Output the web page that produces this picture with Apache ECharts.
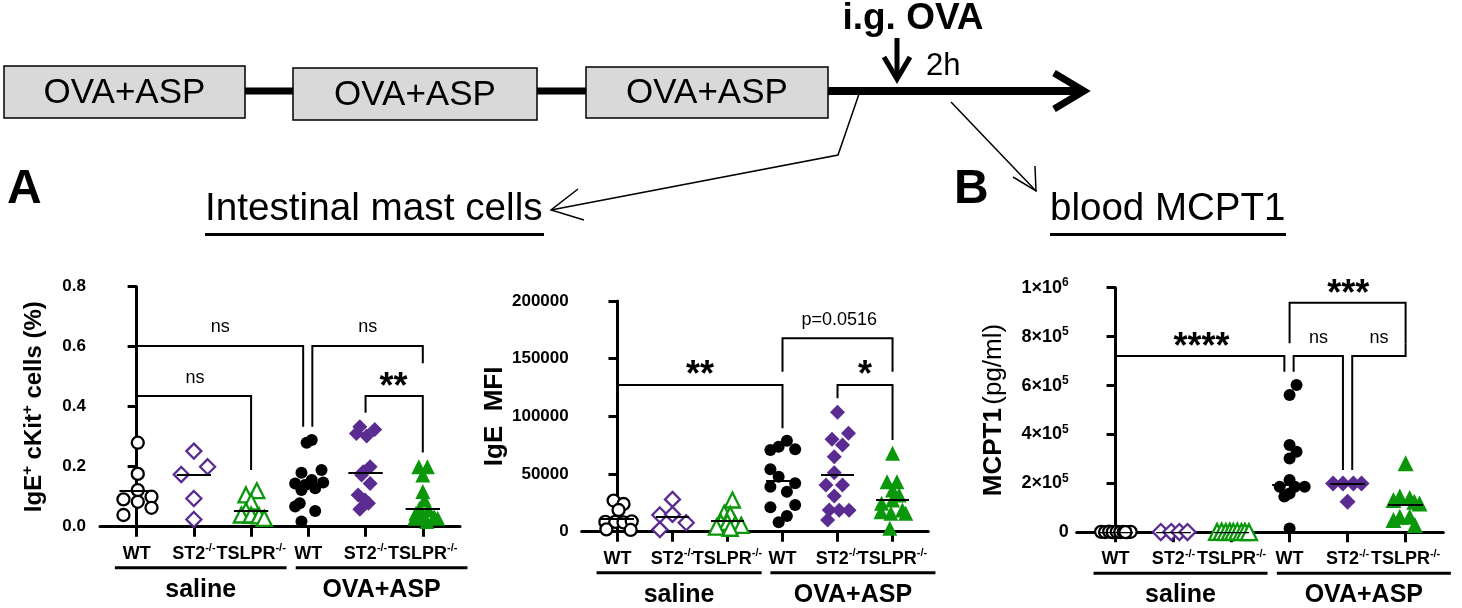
<!DOCTYPE html>
<html>
<head>
<meta charset="utf-8">
<script src="https://cdn.jsdelivr.net/npm/echarts@6/dist/echarts.min.js"></script>
<style>html,body{margin:0;padding:0;background:#fff}#c{width:1462px;height:608px}</style>
</head>
<body>
<div id="c"></div>
<script>
// ---------- DATA ----------
const categories = ['WT', 'ST2-/-', 'TSLPR-/-', 'WT', 'ST2-/-', 'TSLPR-/-'];
const groupLabels = ['saline', 'OVA+ASP'];
const timelineBoxes = ['OVA+ASP', 'OVA+ASP', 'OVA+ASP'];

// Panel A left: IgE+ cKit+ cells (%)  — each point: [jitter in category units, value]
const a1Points = [
  [[0.02,0.28],[0.02,0.176],[0.02,0.122],[-0.23,0.091],[0.02,0.083],[0.26,0.1],[-0.23,0.039],[0.26,0.063]],
  [[0,0.252],[-0.22,0.174],[0.24,0.2],[0,0.094],[0,0.024]],
  [[0.1,0.12],[-0.09,0.106],[0,0.083],[-0.09,0.053],[-0.17,0.039],[0,0.039],[0.14,0.036],[0.23,0.028]],
  [[-0.03,0.28],[0.06,0.289],[-0.12,0.18],[0.23,0.189],[-0.23,0.144],[0.06,0.156],[0.26,0.147],[-0.06,0.139],[-0.12,0.122],[0.12,0.128],[-0.15,0.078],[-0.23,0.067],[0.12,0.052],[-0.12,0.017]],
  [[-0.16,0.311],[0.02,0.302],[0.16,0.324],[-0.1,0.333],[0.08,0.2],[-0.04,0.183],[-0.07,0.172],[0.08,0.144],[-0.13,0.106],[-0.01,0.089],[0.05,0.078],[-0.1,0.058]],
  [[-0.07,0.2],[0.08,0.2],[0,0.172],[0,0.117],[0.03,0.089],[-0.06,0.061],[-0.12,0.045],[0.1,0.056],[0.2,0.033],[-0.02,0.033],[0.07,0.017],[-0.14,0.028],[0.26,0.028]]
];
const a1Centre = [0.119, 0.174, 0.053, 0.144, 0.18, 0.059];
const a1Brackets = [
  {from:0, to:2.91, top:0.602, legFrom:0.478, legTo:0.333, label:'ns', lx:1.46, ly:0.667},
  {from:3.07, to:5, top:0.602, legFrom:0.333, legTo:0.545, label:'ns', lx:4.04, ly:0.667},
  {from:0, to:2, top:0.436, legFrom:0.315, legTo:0.189, label:'ns', lx:1.02, ly:0.495},
  {from:4, to:5, top:0.436, legFrom:0.38, legTo:0.247, label:'**', lx:4.49, ly:0.489}
];
const a1Ticks = [0, 0.2, 0.4, 0.6, 0.8];

// Panel A right: IgE MFI
const a2Points = [
  [[-0.07,27000],[0.11,24000],[0.02,18800],[-0.22,8500],[-0.04,8500],[0.11,8000],[0.26,9000],[-0.2,2000],[0.24,1500]],
  [[0,28000],[-0.23,14500],[0,15000],[0.25,7800],[-0.23,1800]],
  [[0.09,27500],[-0.06,16000],[0.05,15000],[-0.12,8000],[0,8000],[0.14,6500],[0.25,5500],[-0.2,4000],[0.05,3000]],
  [[-0.22,70800],[-0.07,73700],[0.08,78900],[0.23,71500],[-0.22,54100],[-0.07,47700],[0.23,42000],[-0.22,39000],[0.08,34700],[-0.22,21100],[0.23,23100],[0.08,13600],[-0.07,8100]],
  [[0,103500],[0.2,85300],[-0.1,80100],[0.09,75200],[-0.06,65000],[-0.06,51200],[-0.21,40500],[0.09,40500],[-0.06,31000],[-0.15,18800],[0.03,18700],[0.21,18700],[-0.18,10100]],
  [[0,68000],[-0.1,43300],[0.08,43300],[0,36100],[0.12,31800],[-0.2,24600],[0,27500],[0.18,18800],[-0.21,17300],[-0.03,16000],[0.24,16000],[-0.05,2900]]
];
const a2Centre = [11600, 13000, 9300, 44200, 49200, 28000];
const a2Brackets = [
  {from:0, to:3, top:127200, legFrom:39000, legTo:89600, label:'**', lx:1.5, ly:141600},
  {from:3, to:5, top:167600, legFrom:138700, legTo:138700, label:'p=0.0516', lx:4.03, ly:183500},
  {from:4, to:5, top:127200, legFrom:115600, legTo:79500, label:'*', lx:4.5, ly:141600}
];
const a2Ticks = [0, 50000, 100000, 150000, 200000];

// Panel B: blood MCPT1 (pg/ml)
const bPoints = [
  [[-0.25,2000],[-0.18,1000],[-0.11,3000],[-0.05,500],[0.02,2000],[0.08,1000],[0.14,1500],[0.2,800],[0.26,2000],[0.17,500]],
  [[-0.22,1000],[-0.04,1000],[0.1,1000],[0.24,1000]],
  [[-0.25,1500],[-0.17,2500],[-0.1,1000],[-0.03,2500],[0.03,1500],[0.1,2500],[0.17,1000],[0.23,2000],[0.3,500]],
  [[0.12,602000],[0,561000],[0,357000],[0.12,329000],[0,302000],[0,214000],[-0.17,186000],[0.26,186000],[0.09,186000],[0,159000],[-0.09,146000],[0,16000]],
  [[-0.25,200000],[-0.08,200000],[0.1,200000],[0.24,200000],[0,125000]],
  [[0,282000],[-0.21,132000],[-0.1,146000],[0.07,140000],[0.24,118000],[0.15,125000],[-0.21,50000],[-0.1,64000],[0.07,64000],[0.16,30000]]
];
const bCentre = [0, 0, 0, 193000, 198000, 112000];
const bBrackets = [
  {from:0, to:2.91, top:720700, legFrom:63800, legTo:656500, label:'****', lx:1.48, ly:786000},
  {from:3.07, to:3.92, top:720700, legFrom:656500, legTo:254700, label:'ns', lx:3.5, ly:793000},
  {from:4.08, to:5, top:720700, legFrom:254700, legTo:772600, label:'ns', lx:4.54, ly:793000},
  {from:3, to:5, top:938600, legFrom:772600, legTo:772600, label:'***', lx:4.01, ly:1004000}
];
const bTicks = [0, 200000, 400000, 600000, 800000, 1000000];

// ---------- STYLE ----------
const FONT = 'Liberation Sans, Arial, Helvetica, sans-serif';
const colors = ['#000000', '#5a2b91', '#0b970b'];
const shapes = ['circle', 'diamond', 'triangle'];
const catIdx = [0, 1, 2, 3, 4, 5];

const chart = echarts.init(document.getElementById('c'), null, {renderer: 'canvas'});

function xLabelFmt(v) {
  const l = categories[Math.round(v)];
  const k = l.indexOf('-');
  return k > 0 ? '{b|' + l.slice(0, k) + '}{s|' + l.slice(k) + '}' : '{b|' + l + '}';
}
const xRich = {
  b: {fontSize: 18, fontWeight: 'bold', fontFamily: FONT, fill: '#000', color: '#000', lineHeight: 22},
  s: {fontSize: 11, fontWeight: 'bold', fontFamily: FONT, fill: '#000', color: '#000', verticalAlign: 'top', lineHeight: 22, padding: [0, 0, 7, 0]}
};

function makeX(gi, min, max) {
  return {
    type: 'value', gridIndex: gi, min: min, max: max, position: 'bottom',
    axisLine: {show: true, onZero: false, lineStyle: {color: '#000', width: 3}},
    axisTick: {show: true, customValues: catIdx, length: 10, lineStyle: {color: '#000', width: 3}},
    axisLabel: {show: false},
    splitLine: {show: false}
  };
}
function makeY(gi, max, interval, fmt, margin, fs, name, nameGap, nameRich) {
  return {
    type: 'value', gridIndex: gi, min: 0, max: max, interval: interval,
    axisLine: {show: true, lineStyle: {color: '#000', width: 3}},
    axisTick: {show: true, length: 9, lineStyle: {color: '#000', width: 3}},
    axisLabel: {formatter: fmt, margin: margin, color: '#000', showMinLabel: true, showMaxLabel: true,
      rich: {n: {fontSize: fs, fontWeight: 'bold', fontFamily: FONT, color: '#000', lineHeight: fs + 4},
             s: {fontSize: Math.round(fs * 0.65), fontWeight: 'bold', fontFamily: FONT, color: '#000', verticalAlign: 'top', lineHeight: fs + 4}}},
    splitLine: {show: false},
    name: name, nameLocation: 'middle', nameGap: nameGap, nameRotate: 90,
    nameTextStyle: {rich: nameRich}
  };
}

function panelSeries(gi, points, centres, brackets, sizes) {
  const s = [];
  points.forEach((pts, i) => {
    const hollow = i < 3;
    s.push({
      type: 'scatter', xAxisIndex: gi, yAxisIndex: gi, silent: true, z: 3,
      data: pts.map(p => [i + p[0], p[1]]),
      symbol: shapes[i % 3], symbolSize: sizes[i % 3],
      itemStyle: hollow ? {color: '#fff', borderColor: colors[i % 3], borderWidth: 2.3, opacity: 1}
                        : {color: colors[i % 3], borderWidth: 0, opacity: 1}
    });
  });
  s.push({
    type: 'lines', coordinateSystem: 'cartesian2d', xAxisIndex: gi, yAxisIndex: gi, silent: true, z: 4,
    data: centres.map((m, i) => ({coords: [[i - 0.3, m], [i + 0.3, m]]})),
    lineStyle: {color: '#000', width: 2, opacity: 1, curveness: 0}
  });
  s.push({
    type: 'lines', coordinateSystem: 'cartesian2d', polyline: true, xAxisIndex: gi, yAxisIndex: gi, silent: true, z: 4,
    data: brackets.map(b => ({coords: [[b.from, b.legFrom], [b.from, b.top], [b.to, b.top], [b.to, b.legTo]]})),
    lineStyle: {color: '#000', width: 2, opacity: 1}
  });
  s.push({
    type: 'scatter', xAxisIndex: gi, yAxisIndex: gi, silent: true, z: 5, clip: false, symbolSize: 0,
    itemStyle: {opacity: 1, color: '#000'},
    data: brackets.map(b => {
      const star = b.label.indexOf('*') >= 0;
      return {
        value: [b.lx, b.ly],
        label: {show: true, position: 'inside', formatter: b.label, color: '#000', opacity: 1, fontFamily: FONT,
          fontSize: star ? 36 : 18, fontWeight: star ? 'bold' : 'normal', offset: star ? [0, 8] : [0, 0]}
      };
    })
  });
  return s;
}

const option = {
  animation: false,
  backgroundColor: '#fff',
  grid: [
    {left: 100, top: 286.7, width: 360, height: 240, containLabel: false, outerBoundsMode: 'none'},
    {left: 581.7, top: 301, width: 346.6, height: 230.7, containLabel: false, outerBoundsMode: 'none'},
    {left: 1076.7, top: 287.7, width: 366.6, height: 244.6, containLabel: false, outerBoundsMode: 'none'}
  ],
  xAxis: [makeX(0, -0.64, 5.65), makeX(1, -0.65, 5.65), makeX(2, -0.67, 5.65)],
  yAxis: [
    makeY(0, a1Ticks[a1Ticks.length - 1], a1Ticks[1] - a1Ticks[0], v => '{n|' + v.toFixed(1) + '}', 14, 17,
      '{n|IgE}{s|+}{n| cKit}{s|+}{n| cells (%)}', 52,
      {n: {fontSize: 24, fontWeight: 'bold', fontFamily: FONT, color: '#000', lineHeight: 28},
       s: {fontSize: 15, fontWeight: 'bold', fontFamily: FONT, color: '#000', verticalAlign: 'top', lineHeight: 28}}),
    makeY(1, a2Ticks[a2Ticks.length - 1], a2Ticks[1] - a2Ticks[0], v => '{n|' + v + '}', 13, 17,
      '{n|IgE  MFI}', 74,
      {n: {fontSize: 26, fontWeight: 'bold', fontFamily: FONT, color: '#000'}}),
    makeY(2, bTicks[bTicks.length - 1], bTicks[1] - bTicks[0], v => {
        if (v === 0) return '{n|0}';
        const e = Math.floor(Math.log10(v) + 1e-9);
        const m = Math.round(v / Math.pow(10, e));
        return '{n|' + m + '×10}{s|' + e + '}';
      }, 8, 18,
      '{b|MCPT1} {r|(pg/ml)}', 70,
      {b: {fontSize: 26, fontWeight: 'bold', fontFamily: FONT, color: '#000'},
       r: {fontSize: 26, fontWeight: 'normal', fontFamily: FONT, color: '#000'}})
  ],
  series: [].concat(
    panelSeries(0, a1Points, a1Centre, a1Brackets, [12, 15, 15]),
    panelSeries(1, a2Points, a2Centre, a2Brackets, [12, 15, 15]),
    panelSeries(2, bPoints, bCentre, bBrackets, [12, 16, 16])
  )
};
chart.setOption(option);

// ---------- ANNOTATIONS (schematic + category labels + group bars) ----------
const g = [];
function txt(x, y, text, font, align) {
  g.push({type: 'text', x: x, y: y, z: 10, style: {text: text, font: font, fill: '#000', textAlign: align || 'center', textVerticalAlign: 'middle', verticalAlign: 'middle'}});
}
function ln(x1, y1, x2, y2, w) {
  g.push({type: 'line', z: 9, shape: {x1: x1, y1: y1, x2: x2, y2: y2}, style: {stroke: '#000', lineWidth: w}});
}
function pl(points, w) {
  g.push({type: 'polyline', z: 9, shape: {points: points}, style: {stroke: '#000', lineWidth: w, fill: null, lineJoin: 'miter'}});
}
// timeline
ln(245, 91, 293, 91, 7);
ln(537, 91, 586, 91, 7);
ln(828, 91, 1080, 91, 8);
pl([[1054, 73], [1084, 91], [1054, 109]], 7);
const boxes = [[4, 66, 241, 52], [293, 68, 244, 52], [586, 67, 242, 51]];
boxes.forEach((b, i) => {
  g.push({type: 'rect', z: 9, shape: {x: b[0], y: b[1], width: b[2], height: b[3]}, style: {fill: '#d9d9d9', stroke: '#000', lineWidth: 1.5}});
  txt(b[0] + b[2] / 2, b[1] + b[3] / 2 + 1, timelineBoxes[i], '35px ' + FONT);
});
txt(913, 19, 'i.g. OVA', 'bold 37px ' + FONT);
ln(897, 38, 897, 79, 5);
pl([[884, 57], [897, 79], [910, 57]], 5);
txt(926, 66, '2h', '31px ' + FONT, 'left');
// arrows to panels
pl([[859, 94], [838, 155], [551, 210]], 1.5);
pl([[578, 189], [551, 210], [584, 220]], 1.5);
ln(951, 102, 1036, 191, 1.5);
pl([[1013, 177], [1036, 191], [1035, 166]], 1.5);
// panel letters and titles
txt(7, 190, 'A', 'bold 48px ' + FONT, 'left');
txt(954, 190, 'B', 'bold 48px ' + FONT, 'left');
txt(205, 209, 'Intestinal mast cells', '38.7px ' + FONT, 'left');
ln(205, 234.5, 544, 234.5, 3);
txt(1050, 209, 'blood MCPT1', '38.5px ' + FONT, 'left');
ln(1050, 234.5, 1286, 234.5, 3);

// category labels and group bars under each panel, positioned through the axes
const groupSpans = [[-0.38, 2.62], [2.78, 5.78]];
[0, 1, 2].forEach(gi => {
  catIdx.forEach(ci => {
    const p = chart.convertToPixel({gridIndex: gi}, [ci, 0]);
    g.push({type: 'text', x: p[0], y: p[1] + 27, z: 10,
      style: {text: xLabelFmt(ci), rich: xRich, fill: '#000', align: 'center', verticalAlign: 'middle', textAlign: 'center', textVerticalAlign: 'middle'}});
  });
  groupSpans.forEach((sp, k) => {
    const p1 = chart.convertToPixel({gridIndex: gi}, [sp[0], 0]);
    const p2 = chart.convertToPixel({gridIndex: gi}, [sp[1], 0]);
    const yb = p1[1] + 41;
    ln(p1[0], yb, p2[0], yb, 3);
    txt((p1[0] + p2[0]) / 2, p1[1] + 63, groupLabels[k], 'bold 25px ' + FONT);
  });
});
chart.setOption({graphic: {elements: g}});
</script>
</body>
</html>
